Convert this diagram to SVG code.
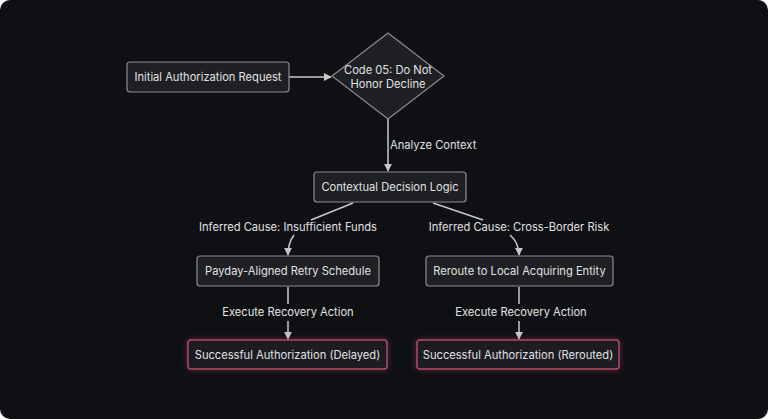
<svg xmlns="http://www.w3.org/2000/svg" width="768" height="419" viewBox="0 0 768 419">
<defs>
<style>
.node rect, .node polygon { fill: #1e2023; stroke: #8c8c8c; stroke-width: 1.2; }
.succ rect { fill: #1e1c20; stroke: #b04a68; stroke-width: 1.5; }
text { font-family: Inter, "Liberation Sans", sans-serif; font-size: 11.15px; fill: #e2e2e2; text-anchor: middle; dominant-baseline: central; }
.edge { fill: none; stroke: #c8c8c8; stroke-width: 1.5; }
</style>
<marker id="arr" viewBox="0 0 10 10" refX="9" refY="5" markerWidth="8" markerHeight="8" markerUnits="userSpaceOnUse" orient="auto">
<path d="M0,0 L10,5 L0,10 z" fill="#c8c8c8"/>
</marker>
<filter id="glow" x="-20%" y="-50%" width="140%" height="200%">
<feGaussianBlur in="SourceAlpha" stdDeviation="3" result="b"/>
<feFlood flood-color="#c8406a" flood-opacity="0.45"/>
<feComposite in2="b" operator="in" result="g"/>
<feMerge><feMergeNode in="g"/><feMergeNode in="SourceGraphic"/></feMerge>
</filter>
</defs>
<rect x="0" y="0" width="768" height="419" rx="10" fill="#0e1013"/>
<g id="connectors">
<path class="edge" d="M289,77 L331,77" marker-end="url(#arr)"/>
<path class="edge" d="M388,119 L388,171" marker-end="url(#arr)"/>
<text x="390" y="145" style="text-anchor:start">Analyze Context</text>
<path class="edge" d="M353,203 L311,220"/>
<path class="edge" d="M294,235 Q288,243 288,255" marker-end="url(#arr)"/>
<text x="288" y="227">Inferred Cause: Insufficient Funds</text>
<path class="edge" d="M433,203 L483,220"/>
<path class="edge" d="M510,235 Q519,243 519,255" marker-end="url(#arr)"/>
<text x="519" y="227">Inferred Cause: Cross-Border Risk</text>
<path class="edge" d="M288,287 L288,304"/>
<path class="edge" d="M288,321 L288,339" marker-end="url(#arr)"/>
<text x="288" y="312">Execute Recovery Action</text>
<path class="edge" d="M519,287 L519,304"/>
<path class="edge" d="M519,321 L519,339" marker-end="url(#arr)"/>
<text x="521" y="312">Execute Recovery Action</text>
</g>
<g id="n1" class="node">
<rect x="127" y="62" width="162" height="30" rx="3"/>
<text x="208" y="77">Initial Authorization Request</text>
</g>
<g id="n2" class="node">
<polygon points="388,33 444,76 388,119 332,76"/>
<text x="388" y="70">Code 05: Do Not</text>
<text x="388" y="84">Honor Decline</text>
</g>
<g id="n3" class="node">
<rect x="314" y="172" width="152" height="30" rx="3"/>
<text x="390" y="187">Contextual Decision Logic</text>
</g>
<g id="n4" class="node">
<rect x="197" y="256" width="182" height="30" rx="3"/>
<text x="288" y="271">Payday-Aligned Retry Schedule</text>
</g>
<g id="n5" class="node">
<rect x="426" y="256" width="187" height="30" rx="3"/>
<text x="519.5" y="271">Reroute to Local Acquiring Entity</text>
</g>
<g id="n6" class="node succ">
<rect x="188" y="340" width="199" height="29" rx="3" filter="url(#glow)"/>
<text x="287.5" y="355">Successful Authorization (Delayed)</text>
</g>
<g id="n7" class="node succ">
<rect x="417" y="340" width="202" height="29" rx="3" filter="url(#glow)"/>
<text x="518" y="355">Successful Authorization (Rerouted)</text>
</g>
</svg>
